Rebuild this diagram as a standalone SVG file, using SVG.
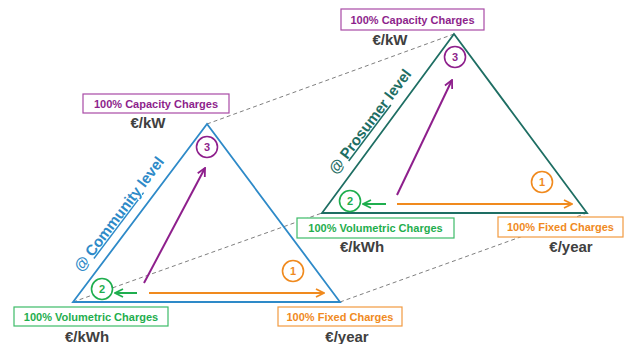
<svg xmlns="http://www.w3.org/2000/svg" width="625" height="344" viewBox="0 0 625 344">
  <defs>
    <style>
      .lbl { font-family: "Liberation Sans", Arial, sans-serif; font-weight: bold; font-size: 11px; text-anchor: middle; }
      .unit { font-family: "Liberation Sans", Arial, sans-serif; font-weight: bold; font-size: 15px; fill: #404040; text-anchor: middle; }
      .num { font-family: "Liberation Sans", Arial, sans-serif; font-weight: bold; font-size: 11px; text-anchor: middle; }
      .side { font-family: "Liberation Sans", Arial, sans-serif; font-weight: bold; font-size: 15px; text-anchor: middle; }
      .box { fill: #ffffff; stroke-width: 1.2; }
      .circ { fill: #ffffff; stroke-width: 1.6; }
      .dash { fill: none; stroke: #7f7f7f; stroke-width: 1; stroke-dasharray: 4 3; }
      .arr { fill: none; stroke-width: 2; }
      .purple { fill: #8e1f8c; stroke: #8e1f8c; }
      .green { fill: #1fae4e; stroke: #1fae4e; }
      .orange { fill: #f08a1e; stroke: #f08a1e; }
    </style>
    <marker id="headPurple" viewBox="0 0 10 10" refX="9" refY="5" markerWidth="5" markerHeight="5" orient="auto">
      <path d="M1,1 L9,5 L1,9" fill="none" stroke="#8e1f8c" stroke-width="1.8"/>
    </marker>
    <marker id="headGreen" viewBox="0 0 10 10" refX="9" refY="5" markerWidth="5" markerHeight="5" orient="auto">
      <path d="M1,1 L9,5 L1,9" fill="none" stroke="#1fae4e" stroke-width="1.8"/>
    </marker>
    <marker id="headOrange" viewBox="0 0 10 10" refX="9" refY="5" markerWidth="5" markerHeight="5" orient="auto">
      <path d="M1,1 L9,5 L1,9" fill="none" stroke="#f08a1e" stroke-width="1.8"/>
    </marker>
  </defs>

  <rect width="625" height="344" fill="#ffffff"/>

  <!-- dashed projection lines between the two triangles -->
  <g id="connectors">
    <line class="dash" x1="207" y1="124" x2="454" y2="34"/>
    <line class="dash" x1="73" y1="302" x2="322" y2="213"/>
    <line class="dash" x1="340" y1="302" x2="587" y2="213"/>
  </g>

  <!-- community-level triangle -->
  <g id="community">
    <polygon points="207,124 73,302 340,302" fill="none" stroke="#2e8ac8" stroke-width="1.8"/>
    <text class="side" fill="#2e8ac8" transform="translate(123,217) rotate(-53)">@ <tspan text-decoration="underline">Community</tspan> level</text>
    <line class="arr" stroke="#8e1f8c" x1="144" y1="283" x2="205" y2="168" marker-end="url(#headPurple)"/>
    <line class="arr" stroke="#1fae4e" x1="137" y1="293" x2="115" y2="293" marker-end="url(#headGreen)"/>
    <line class="arr" stroke="#f08a1e" x1="149" y1="293" x2="324" y2="293" marker-end="url(#headOrange)"/>
    <circle class="circ" stroke="#8e1f8c" cx="207" cy="147" r="10.5"/>
    <text class="num" fill="#8e1f8c" x="207" y="151">3</text>
    <circle class="circ" stroke="#1fae4e" cx="102" cy="289" r="10.5"/>
    <text class="num" fill="#1fae4e" x="102" y="293">2</text>
    <circle class="circ" stroke="#f08a1e" cx="293" cy="271" r="10.5"/>
    <text class="num" fill="#f08a1e" x="293" y="275">1</text>
  </g>

  <g id="community-capacity">
    <rect class="box" stroke="#a84aa6" x="83" y="94" width="146" height="19"/>
    <text class="lbl" fill="#8e1f8c" x="156" y="108">100% Capacity Charges</text>
    <text class="unit" x="148" y="128">€/kW</text>
  </g>
  <g id="community-volumetric">
    <rect class="box" stroke="#3dbb68" x="14" y="307" width="154" height="19"/>
    <text class="lbl" fill="#1fae4e" x="91" y="321">100% Volumetric Charges</text>
    <text class="unit" x="87" y="342">€/kWh</text>
  </g>
  <g id="community-fixed">
    <rect class="box" stroke="#f29a40" x="278" y="307" width="124" height="19"/>
    <text class="lbl" fill="#f08a1e" x="340" y="321">100% Fixed Charges</text>
    <text class="unit" x="347" y="342">€/year</text>
  </g>

  <!-- prosumer-level triangle -->
  <g id="prosumer">
    <polygon points="454,34 322,213 587,213" fill="none" stroke="#1e6e63" stroke-width="1.8"/>
    <text class="side" fill="#1e6e63" transform="translate(374,124.5) rotate(-53)">@ <tspan text-decoration="underline">Prosumer</tspan> level</text>
    <line class="arr" stroke="#8e1f8c" x1="397" y1="195" x2="452" y2="80" marker-end="url(#headPurple)"/>
    <line class="arr" stroke="#1fae4e" x1="386" y1="204" x2="363" y2="204" marker-end="url(#headGreen)"/>
    <line class="arr" stroke="#f08a1e" x1="397" y1="204" x2="572" y2="204" marker-end="url(#headOrange)"/>
    <circle class="circ" stroke="#8e1f8c" cx="455" cy="57" r="10.5"/>
    <text class="num" fill="#8e1f8c" x="455" y="61">3</text>
    <circle class="circ" stroke="#1fae4e" cx="350" cy="201" r="10.5"/>
    <text class="num" fill="#1fae4e" x="350" y="205">2</text>
    <circle class="circ" stroke="#f08a1e" cx="542" cy="182" r="10.5"/>
    <text class="num" fill="#f08a1e" x="542" y="186">1</text>
  </g>

  <g id="prosumer-capacity">
    <rect class="box" stroke="#a84aa6" x="341" y="9" width="143" height="21"/>
    <text class="lbl" fill="#8e1f8c" x="412.5" y="24">100% Capacity Charges</text>
    <text class="unit" x="390" y="45">€/kW</text>
  </g>
  <g id="prosumer-volumetric">
    <rect class="box" stroke="#3dbb68" x="297" y="218" width="157" height="20"/>
    <text class="lbl" fill="#1fae4e" x="375.5" y="232">100% Volumetric Charges</text>
    <text class="unit" x="362" y="252">€/kWh</text>
  </g>
  <g id="prosumer-fixed">
    <rect class="box" stroke="#f29a40" x="498" y="217" width="125" height="20"/>
    <text class="lbl" fill="#f08a1e" x="560.5" y="231">100% Fixed Charges</text>
    <text class="unit" x="571" y="252">€/year</text>
  </g>
</svg>
